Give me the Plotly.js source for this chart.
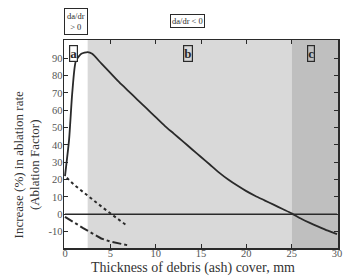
<!DOCTYPE html>
<html>
<head>
<meta charset="utf-8">
<script src="https://cdn.plot.ly/plotly-3.0.1.min.js"></script>
<style>html,body{margin:0;padding:0;background:#fff;}#chart{width:350px;height:277px;}</style>
</head>
<body>
<div id="chart"></div>
<script>
// Main ablation-factor curve (solid)
const mainX = [0, 0.45, 0.8, 1.2, 1.8, 2.5, 3, 4, 5, 6, 7, 8, 9, 10, 11, 12, 13, 14, 15, 16, 17, 18, 19, 20, 21, 22, 23, 24, 25, 26, 27, 28, 29, 30];
const mainY = [22, 43, 70, 88.5, 92.5, 93.5, 92.5, 87, 81.5, 76, 71, 66, 61, 56, 51, 46.5, 42, 37.5, 33, 28.5, 24, 20, 16.5, 13.3, 10.5, 8, 5.5, 3, 0.5, -2.5, -5, -7.3, -9.5, -11.5];
// Dotted curve
const dotX = [0.2, 1, 2, 3, 4, 5, 6, 6.8];
const dotY = [21, 17, 12.8, 8.5, 4.5, 0.5, -3.5, -6.5];
// Dash-dot curve
const ddX = [0, 1, 2, 3, 4, 5, 6, 7];
const ddY = [-1.5, -5, -8, -11, -14, -15.8, -17, -18];
// Zero reference line
const zeroX = [0, 30];
const zeroY = [0, 0];
// Regions
const regionBounds = [0, 2.5, 25, 30.11];
const regionLabels = ['a', 'b', 'c'];
const regionFills = ['#ffffff', '#d9d9d9', '#bfbfbf'];
// Ticks
const xTicks = [0, 5, 10, 15, 20, 25, 30];
const yTicks = [-10, 0, 10, 20, 30, 40, 50, 60, 70, 80, 90];

const serif = 'Liberation Serif, DejaVu Serif, serif';
const ink = '#2a2a2a';
const labelX = [0.45, 13.0, 26.7];

const traces = [
  {x: zeroX, y: zeroY, mode: 'lines', line: {color: ink, width: 1.5}, hoverinfo: 'skip'},
  {x: mainX, y: mainY, mode: 'lines', line: {color: ink, width: 1.8, shape: 'spline', smoothing: 0.6}},
  {x: dotX, y: dotY, mode: 'lines', line: {color: ink, width: 2, dash: 'dot'}},
  {x: ddX, y: ddY, mode: 'lines', line: {color: ink, width: 2, dash: 'dashdot'}}
];

const shapes = [];
const annotations = [];
for (let i = 0; i < regionLabels.length; i++) {
  shapes.push({type: 'rect', xref: 'x', yref: 'paper', x0: regionBounds[i], x1: regionBounds[i+1], y0: 0, y1: 1,
    fillcolor: regionFills[i], line: {width: 0}, layer: 'below'});
  annotations.push({xref: 'x', yref: 'paper', x: labelX[i], y: 0.975, xanchor: 'left', yanchor: 'top',
    text: '<b>' + regionLabels[i] + '</b>', showarrow: false, font: {family: serif, size: 13, color: ink},
    bordercolor: ink, borderwidth: 1.2, borderpad: 0, bgcolor: regionFills[i]});
}
annotations.push({xref: 'paper', yref: 'paper', x: 0.0, y: 1.091, xanchor: 'left', yanchor: 'middle',
  text: 'da/dr<br>&gt; 0', showarrow: false, font: {family: serif, size: 8.5, color: ink}, align: 'center',
  bordercolor: ink, borderwidth: 1, borderpad: 2});
annotations.push({xref: 'paper', yref: 'paper', x: 0.387, y: 1.091, xanchor: 'left', yanchor: 'middle',
  text: 'da/dr &lt; 0', showarrow: false, font: {family: serif, size: 8.5, color: ink},
  bordercolor: ink, borderwidth: 1, borderpad: 1});
annotations.push({xref: 'paper', yref: 'paper', x: -0.135, y: 0.397, xanchor: 'center', yanchor: 'middle',
  textangle: -90, text: 'Increase (%) in ablation rate<br>(Ablation Factor)', showarrow: false,
  font: {family: serif, size: 13, color: '#333'}});
annotations.push({xref: 'paper', yref: 'paper', x: 0.47, y: -0.095, xanchor: 'center', yanchor: 'middle',
  text: 'Thickness of debris (ash) cover, mm', showarrow: false,
  font: {family: serif, size: 14, color: '#333'}});

const layout = {
  width: 350, height: 277,
  margin: {l: 64, r: 12, t: 40, b: 29},
  paper_bgcolor: '#fff', plot_bgcolor: 'rgba(0,0,0,0)',
  showlegend: false,
  xaxis: {range: [-0.11, 30.11], tickvals: xTicks, ticktext: xTicks.map(String), ticks: 'inside', ticklen: 4,
    tickcolor: ink, showgrid: false, zeroline: false, showline: true, linecolor: ink, linewidth: 1.5, mirror: 'ticks',
    tickfont: {family: serif, size: 10.5, color: '#555'}, ticklabelstandoff: -5},
  yaxis: {range: [-19.5, 100.5], tickvals: yTicks, ticktext: yTicks.map(String), ticks: 'inside', ticklen: 4,
    tickcolor: ink, showgrid: false, zeroline: false, showline: true, linecolor: ink, linewidth: 1.5, mirror: 'ticks',
    tickfont: {family: serif, size: 10.5, color: '#555'}, ticklabelstandoff: -2},
  shapes: shapes,
  annotations: annotations
};

Plotly.newPlot('chart', traces, layout, {displayModeBar: false, staticPlot: true});
</script>
</body>
</html>
